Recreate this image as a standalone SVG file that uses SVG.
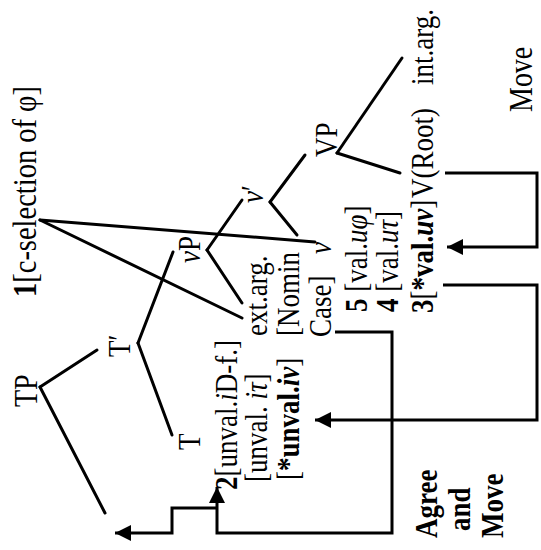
<svg xmlns="http://www.w3.org/2000/svg" width="541" height="550" viewBox="0 0 541 550">
<defs>
<style>
text{font-family:"Liberation Serif","Times New Roman",serif;font-size:27px;fill:#000}
.b{font-weight:bold}
.i{font-style:italic}
.e{stroke:#000;stroke-width:3;fill:none;stroke-linecap:round}
.c{stroke:#000;stroke-width:3;fill:none}
</style>
<marker id="ah" viewBox="0 0 16 16" refX="16" refY="8" markerWidth="16" markerHeight="16" markerUnits="userSpaceOnUse" orient="auto">
<path d="M0,0 L16,8 L0,16 Z" fill="#000"/>
</marker>
</defs>
<rect width="541" height="550" fill="#fff"/>
<g id="edges">
<line class="e" x1="40" y1="220" x2="242" y2="318"/>
<line class="e" x1="40" y1="220" x2="315" y2="242"/>
<line class="e" x1="40" y1="387" x2="97" y2="350"/>
<line class="e" x1="40" y1="387" x2="105" y2="513"/>
<line class="e" x1="138" y1="343" x2="173" y2="252"/>
<line class="e" x1="138" y1="343" x2="172" y2="435"/>
<line class="e" x1="207" y1="250" x2="242" y2="200"/>
<line class="e" x1="207" y1="250" x2="242" y2="303"/>
<line class="e" x1="270" y1="202" x2="305" y2="155"/>
<line class="e" x1="270" y1="202" x2="297" y2="235"/>
<line class="e" x1="337" y1="153" x2="402" y2="58"/>
<line class="e" x1="337" y1="153" x2="400" y2="173"/>
</g>
<g id="connectors">
<path class="c" d="M445,173 H537 V247 H447" marker-end="url(#ah)"/>
<path class="c" d="M443,285 H537 V420 H315" marker-end="url(#ah)"/>
<path class="c" d="M335,332 H392 V533 H217 V487" marker-end="url(#ah)"/>
<path class="c" d="M217,508 H172 V533 H115" marker-end="url(#ah)"/>
</g>
<g id="c-selection"><text style="font-size:28.5px" transform="translate(36,297) rotate(-90) scale(1,1.2)"><tspan class="b">1</tspan>[c-selection of φ]</text></g>
<g id="TP"><text style="font-size:28px" transform="translate(37,407) rotate(-90) scale(1,1.2)">TP</text></g>
<g id="Tbar"><text transform="translate(130,357) rotate(-90) scale(1,1.2)">T′</text></g>
<g id="T"><text transform="translate(200,450) rotate(-90) scale(1,1.2)">T</text></g>
<g id="T-features">
<text transform="translate(237,490) rotate(-90) scale(1,1.2)"><tspan class="b">2</tspan>[unval.<tspan class="i">i</tspan>D-f.]</text>
<text transform="translate(267,482) rotate(-90) scale(1,1.2)">[unval. <tspan class="i">iτ</tspan>]</text>
<text transform="translate(299,480) rotate(-90) scale(1,1.2)">[<tspan class="b">*unval.</tspan><tspan class="b i">iv</tspan>]</text>
</g>
<g id="vP"><text transform="translate(200,263) rotate(-90) scale(1,1.2)"><tspan class="i">v</tspan>P</text></g>
<g id="vbar"><text transform="translate(263,203) rotate(-90) scale(1,1.2)"><tspan class="i">v</tspan>′</text></g>
<g id="ext-arg">
<text transform="translate(267,336) rotate(-90) scale(1,1.2)">ext.arg.</text>
<text transform="translate(299,336) rotate(-90) scale(1,1.2)">[Nomin</text>
<text transform="translate(331,337) rotate(-90) scale(1,1.2)">Case]</text>
</g>
<g id="v"><text transform="translate(331,254) rotate(-90) scale(1,1.2)" class="i">v</text></g>
<g id="v-features">
<text transform="translate(367,312) rotate(-90) scale(1,1.2)"><tspan class="b">5</tspan> [val.<tspan class="i">uφ</tspan>]</text>
<text transform="translate(398,312) rotate(-90) scale(1,1.2)"><tspan class="b">4</tspan> [val.<tspan class="i">uτ</tspan>]</text>
<text transform="translate(433,313) rotate(-90) scale(1,1.2)"><tspan class="b">3</tspan>[<tspan class="b">*val.</tspan><tspan class="b i">uv</tspan>]</text>
</g>
<g id="VP"><text transform="translate(337,157) rotate(-90) scale(1,1.2)">VP</text></g>
<g id="V-root"><text transform="translate(433,198) rotate(-90) scale(1,1.2)">V(Root)</text></g>
<g id="int-arg"><text transform="translate(433,85) rotate(-90) scale(1,1.2)">int.arg.</text></g>
<g id="move-label"><text style="font-size:28px" transform="translate(532,112) rotate(-90) scale(1,1.2)">Move</text></g>
<g id="agree-label">
<text class="b" transform="translate(437,538) rotate(-90) scale(1,1.2)">Agree</text>
<text class="b" transform="translate(470,531) rotate(-90) scale(1,1.2)">and</text>
<text class="b" transform="translate(503,538) rotate(-90) scale(1,1.2)">Move</text>
</g>
</svg>
